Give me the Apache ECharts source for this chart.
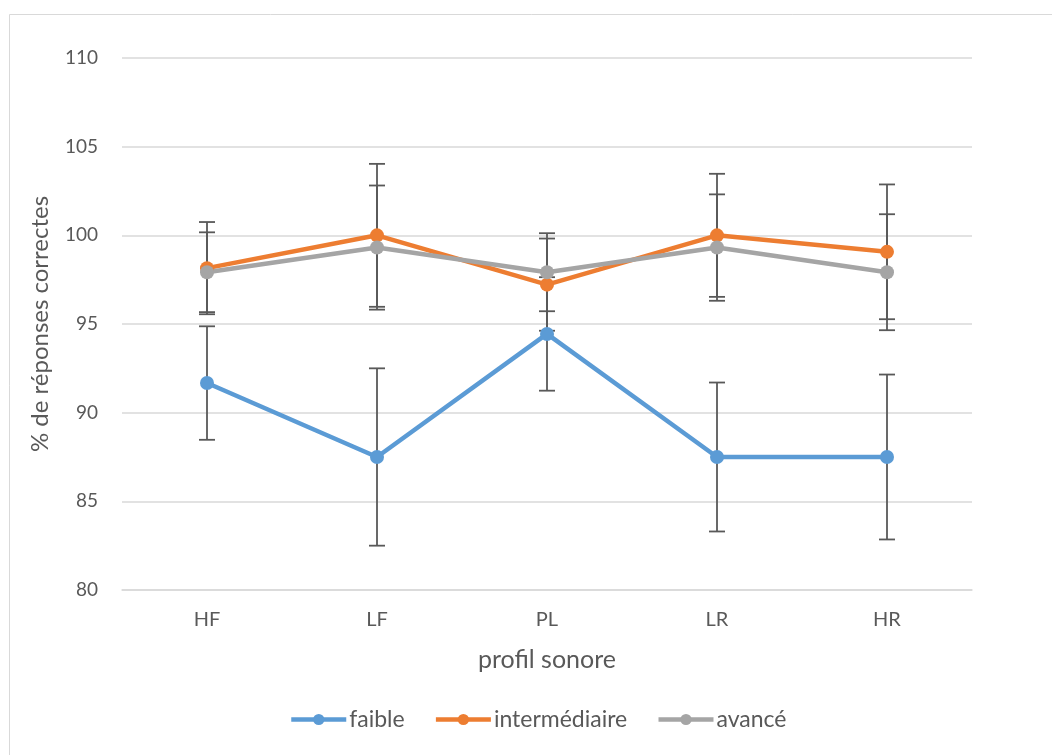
<!DOCTYPE html>
<html>
<head>
<meta charset="utf-8">
<script src="https://cdn.jsdelivr.net/npm/echarts@6/dist/echarts.min.js"></script>
<style>html,body{margin:0;padding:0;background:#fff;}#c{width:1052px;height:755px;}</style>
</head>
<body>
<div id="c"></div>
<script>
var categories = ['HF', 'LF', 'PL', 'LR', 'HR'];
var faible = [91.67, 87.5, 94.44, 87.5, 87.5];
var faibleErr = [3.2, 5.0, 3.2, 4.2, 4.65];
var intermediaire = [98.15, 100, 97.22, 100, 99.07];
var intermediaireErr = [2.6, 4.03, 2.6, 3.47, 3.8];
var avance = [97.92, 99.31, 97.92, 99.31, 97.92];
var avanceErr = [2.25, 3.5, 2.2, 3.0, 3.27];
var yTicks = [80, 85, 90, 95, 100, 105, 110];

var FONT = 'Lato, "Open Sans", sans-serif';
var TXT = '#595959';

function errData(vals, errs) {
  return vals.map(function (v, i) { return [i, v - errs[i], v + errs[i]]; });
}
function errSeries(name, vals, errs) {
  return {
    type: 'custom',
    name: name + '_err',
    z: 1,
    silent: true,
    data: errData(vals, errs),
    renderItem: function (params, api) {
      var x = api.value(0);
      var lo = api.coord([x, api.value(1)]);
      var hi = api.coord([x, api.value(2)]);
      var hw = 8;
      var st = { stroke: '#595959', lineWidth: 1.8 };
      return {
        type: 'group',
        children: [
          { type: 'line', shape: { x1: lo[0], y1: lo[1], x2: hi[0], y2: hi[1] }, style: st },
          { type: 'line', shape: { x1: lo[0] - hw, y1: lo[1], x2: lo[0] + hw, y2: lo[1] }, style: st },
          { type: 'line', shape: { x1: hi[0] - hw, y1: hi[1], x2: hi[0] + hw, y2: hi[1] }, style: st }
        ]
      };
    }
  };
}
function lineSeries(name, vals, color) {
  return {
    type: 'line',
    name: name,
    z: 3,
    data: vals,
    symbol: 'circle',
    symbolSize: 14,
    lineStyle: { color: color, width: 4.5 },
    itemStyle: { color: color },
    animation: false
  };
}

var chart = echarts.init(document.getElementById('c'));
chart.setOption({
  animation: false,
  backgroundColor: '#fff',
  graphic: [{
    type: 'rect',
    shape: { x: 9.5, y: 14.5, width: 1100, height: 800 },
    style: { fill: 'none', stroke: '#d9d9d9', lineWidth: 1 },
    z: -1
  }],
  grid: { left: 122, right: 80, top: 58, bottom: 165 },
  legend: {
    top: 703,
    left: 284,
    itemWidth: 55,
    itemHeight: 14,
    itemGap: 29,
    data: ['faible', 'intermédiaire', 'avancé'],
    lineStyle: { width: 4.5 },
    textStyle: { fontFamily: FONT, fontSize: 23, color: TXT, padding: [0, 0, 0, -2] }
  },
  xAxis: {
    type: 'category',
    data: categories,
    boundaryGap: true,
    name: 'profil sonore',
    nameLocation: 'middle',
    nameGap: 57,
    nameTextStyle: { fontFamily: FONT, fontSize: 25, color: TXT },
    axisLine: { show: true, lineStyle: { color: '#d9d9d9', width: 1.5 } },
    axisTick: { show: false },
    axisLabel: { fontFamily: FONT, fontSize: 20, color: TXT, margin: 20 }
  },
  yAxis: {
    type: 'value',
    min: yTicks[0],
    max: yTicks[yTicks.length - 1],
    interval: 5,
    name: '% de réponses correctes',
    nameLocation: 'middle',
    nameGap: 70,
    nameTextStyle: { fontFamily: FONT, fontSize: 24, color: TXT },
    axisLine: { show: false },
    axisTick: { show: false },
    axisLabel: { fontFamily: FONT, fontSize: 19, color: TXT, margin: 24 },
    splitLine: { lineStyle: { color: '#d9d9d9', width: 1.5 } }
  },
  series: [
    errSeries('faible', faible, faibleErr),
    errSeries('intermédiaire', intermediaire, intermediaireErr),
    errSeries('avancé', avance, avanceErr),
    lineSeries('faible', faible, '#5B9BD5'),
    lineSeries('intermédiaire', intermediaire, '#ED7D31'),
    lineSeries('avancé', avance, '#A5A5A5')
  ]
});
</script>
</body>
</html>
